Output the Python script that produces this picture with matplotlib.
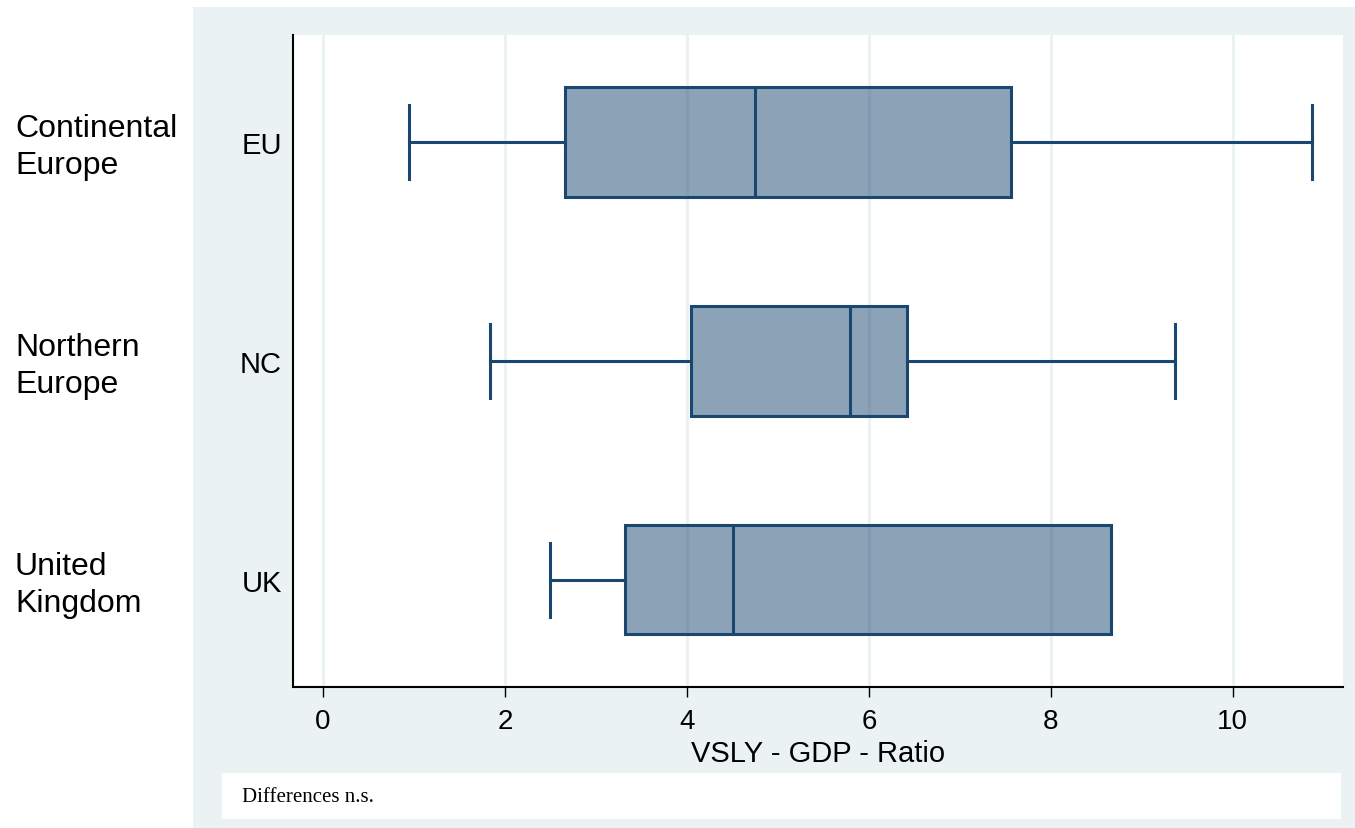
import matplotlib
matplotlib.use('Agg')
import matplotlib.pyplot as plt
import matplotlib.transforms as mtransforms
from matplotlib.patches import Rectangle

# box plot summary values
groups = ['EU', 'NC', 'UK']
regions = ['Continental\nEurope', 'Northern\nEurope', 'United\nKingdom']
whislo = [0.95, 1.84, 2.49]
q1 = [2.66, 4.04, 3.32]
med = [4.75, 5.79, 4.51]
q3 = [7.56, 6.42, 8.66]
whishi = [10.87, 9.36, 8.66]
xticks = [0, 2, 4, 6, 8, 10]

navy = '#1A476F'
panel = '#EAF2F3'

plt.rcParams['font.family'] = 'Liberation Sans'

fig = plt.figure(figsize=(13.55, 8.29), dpi=100)
fig.patch.set_facecolor('white')

# light bluish panel behind the plot
fig.patches.append(Rectangle((0.1424, 0.0), 0.8576, 0.9903, transform=fig.transFigure,
                             facecolor=panel, edgecolor='none', zorder=0))
# note box
fig.patches.append(Rectangle((0.1638, 0.0109), 0.8259, 0.0555, transform=fig.transFigure,
                             facecolor='white', edgecolor='none', zorder=1))
fig.text(0.1786, 0.0374, 'Differences n.s.', family='Liberation Serif', fontsize=15,
         va='center', ha='left', zorder=2)

ax = fig.add_axes([0.2162, 0.1701, 0.7749, 0.7865])
ax.set_zorder(3)
ax.set_facecolor('white')

stats = []
for i in range(len(groups)):
    stats.append(dict(label=groups[i], whislo=whislo[i], q1=q1[i], med=med[i],
                      q3=q3[i], whishi=whishi[i], fliers=[]))

positions = list(range(1, len(groups) + 1))
ax.bxp(stats, positions=positions, vert=False, widths=0.5, patch_artist=True,
       showfliers=False, capwidths=0.34,
       boxprops=dict(facecolor=(26/255, 71/255, 111/255, 0.5), edgecolor=navy, linewidth=2.2),
       medianprops=dict(color=navy, linewidth=2.2),
       whiskerprops=dict(color=navy, linewidth=2.2),
       capprops=dict(color=navy, linewidth=2.2))

ax.set_ylim(3.49, 0.51)
ax.set_xlim(-0.33, 11.21)
ax.set_xticks(xticks)
ax.set_xticklabels([str(t) for t in xticks])
ax.xaxis.grid(True, color=panel, linewidth=2.2)
ax.set_axisbelow(True)

for s in ['top', 'right']:
    ax.spines[s].set_visible(False)
for s in ['left', 'bottom']:
    ax.spines[s].set_linewidth(1.5)
    ax.spines[s].set_color('black')

ax.tick_params(axis='x', length=7, width=1, labelsize=20, pad=8)
ax.tick_params(axis='y', length=0, labelsize=21, pad=8)
ax.set_xlabel('VSLY - GDP - Ratio', fontsize=21, labelpad=4)

trans = mtransforms.blended_transform_factory(fig.transFigure, ax.transData)
for i, r in enumerate(regions):
    ax.text(0.011, positions[i] + 0.02, r, transform=trans, fontsize=23, ha='left',
            va='center', linespacing=1.3)

fig.savefig('out.png', dpi=100)
